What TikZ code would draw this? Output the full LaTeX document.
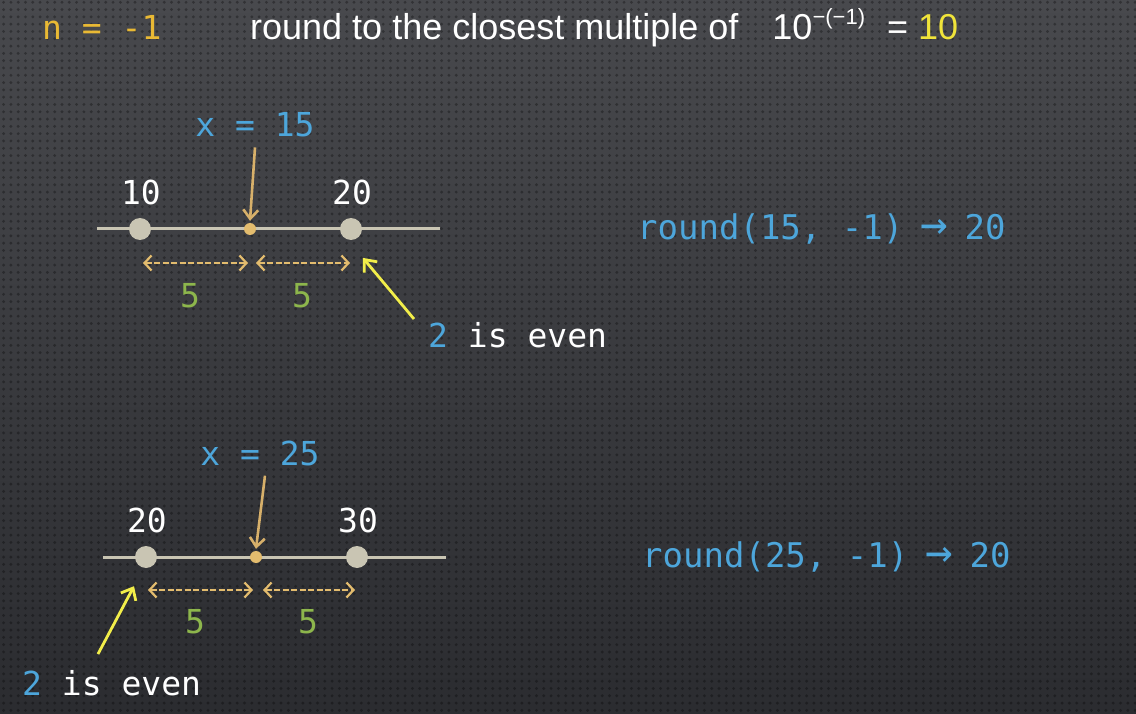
\documentclass[tikz,border=0pt]{standalone}
\usepackage{xcolor}
\usepackage{fontspec}
\setmonofont{DejaVu Sans Mono}
\newfontfamily\headfont{Liberation Sans}
\usepackage{tikz}
\usetikzlibrary{arrows.meta, positioning, patterns}
\definecolor{bgtop}{HTML}{48494D}
\definecolor{bgbot}{HTML}{2B2C30}
\definecolor{cAxis}{HTML}{C9C5B3}
\definecolor{cDot}{HTML}{E3BC6E}
\definecolor{cPointer}{HTML}{D7B06A}
\definecolor{cCode}{HTML}{4DA6DB}
\definecolor{cFive}{HTML}{8DB64C}
\definecolor{cEven}{HTML}{F2EE4A}
\definecolor{cN}{HTML}{E9B934}
\definecolor{cTen}{HTML}{F0E43A}
\pgfdeclarepatternformonly{bgdots}{\pgfqpoint{-1pt}{-1pt}}{\pgfqpoint{8pt}{8pt}}{\pgfqpoint{7.3pt}{7.3pt}}{\pgfpathcircle{\pgfqpoint{3.6pt}{3.6pt}}{1.6pt}\pgfusepath{fill}}
\newcommand{\goesto}{\makebox[0.602em]{\scalebox{1.35}{→}}}
\tikzset{
  lbl/.style={font=\fontsize{33}{33}\selectfont\ttfamily, text=white, inner sep=0pt},
  codelbl/.style={font=\fontsize{34}{34}\selectfont\ttfamily, text=cCode, inner sep=0pt, anchor=west},
  bigdot/.style={circle, fill=cAxis, minimum size=22pt, inner sep=0pt},
  smalldot/.style={circle, fill=cDot, minimum size=12pt, inner sep=0pt},
  axisline/.style={cAxis, line width=3pt},
  pointer/.style={cPointer, line width=2.6pt, -{Straight Barb[length=9pt,width=15pt]}},
  hint/.style={cEven, line width=2.8pt, -{Straight Barb[length=10pt,width=17pt]}},
  gap/.style={cDot, line width=2.2pt, dash pattern=on 6pt off 2.5pt,
    {Straight Barb[length=7pt,width=15pt]}-{Straight Barb[length=7pt,width=15pt]}}
}

\begin{document}
\begin{tikzpicture}[x=1pt, y=-1pt]
    % background
    \fill[top color=bgtop, bottom color=bgbot] (0,0) rectangle (1136,714);
    \fill[pattern=bgdots, pattern color=black, opacity=0.3] (0,0) rectangle (1136,714);
    \useasboundingbox (0,0) rectangle (1136,714);

    % header
    \node[lbl, text=cN, anchor=west] (nval) at (42,27) {n = -1};
    \node[font=\fontsize{36}{36}\selectfont\headfont, text=white, inner sep=0pt, anchor=base west] (head) at (250,40)
      {round to the closest multiple of\hspace{34pt}10{\fontsize{22}{22}\selectfont\raisebox{15pt}{−(−1)}}\hspace{22pt}= \textcolor{cTen}{10}};

    % first line: x = 15
    \coordinate (l1) at (97,229);
    \coordinate (r1) at (440,229);
    \draw[axisline] (l1) -- (r1);
    \node[bigdot] (a10) at (140,229) {};
    \node[smalldot] (x15) at (250,229) {};
    \node[bigdot] (a20) at (351,229) {};
    \node[lbl] (t10) at (141,192) {10};
    \node[lbl] (t20) at (352,192) {20};
    \node[lbl, text=cCode] (xl1) at (255,125) {x = 15};
    \draw[pointer] ([yshift=-10pt]xl1.south) -- ([yshift=2pt]x15.north);
    \draw[gap] ([xshift=3pt,yshift=-34pt]a10.center) -- ([xshift=-2pt,yshift=-34pt]x15.center);
    \draw[gap] ([xshift=6pt,yshift=-34pt]x15.center) -- ([xshift=-1pt,yshift=-34pt]a20.center);
    \node[lbl, text=cFive] (f1a) at (190,296) {5};
    \node[lbl, text=cFive] (f1b) at (302,296) {5};
    \node[lbl, anchor=west] (ev1) at (428,335) {\textcolor{cCode}{2} is even};
    \draw[hint] ([xshift=-14pt,yshift=3pt]ev1.north west) -- ([xshift=4pt,yshift=-21pt]a20.south east);
    \node[codelbl] (rd1) at (637,229) {round(15, -1) \goesto{} 20};

    % second line: x = 25
    \coordinate (l2) at (103,557);
    \coordinate (r2) at (446,557);
    \draw[axisline] (l2) -- (r2);
    \node[bigdot] (b20) at (146,557) {};
    \node[smalldot] (x25) at (256,557) {};
    \node[bigdot] (b30) at (357,557) {};
    \node[lbl] (u20) at (147,520) {20};
    \node[lbl] (u30) at (358,520) {30};
    \node[lbl, text=cCode] (xl2) at (260,453) {x = 25};
    \draw[pointer] ([xshift=5pt,yshift=-10pt]xl2.south) -- ([yshift=2pt]x25.north);
    \draw[gap] ([xshift=2pt,yshift=-33pt]b20.center) -- ([xshift=-3pt,yshift=-33pt]x25.center);
    \draw[gap] ([xshift=7pt,yshift=-33pt]x25.center) -- ([xshift=-2pt,yshift=-33pt]b30.center);
    \node[lbl, text=cFive] (f2a) at (195,622) {5};
    \node[lbl, text=cFive] (f2b) at (308,622) {5};
    \node[lbl, anchor=west] (ev2) at (22,683) {\textcolor{cCode}{2} is even};
    \draw[hint] ([xshift=76pt,yshift=16pt]ev2.north west) -- ([xshift=-12pt,yshift=-18pt]b20.south);
    \node[codelbl] (rd2) at (642,557) {round(25, -1) \goesto{} 20};
  \end{tikzpicture}
\end{document}
